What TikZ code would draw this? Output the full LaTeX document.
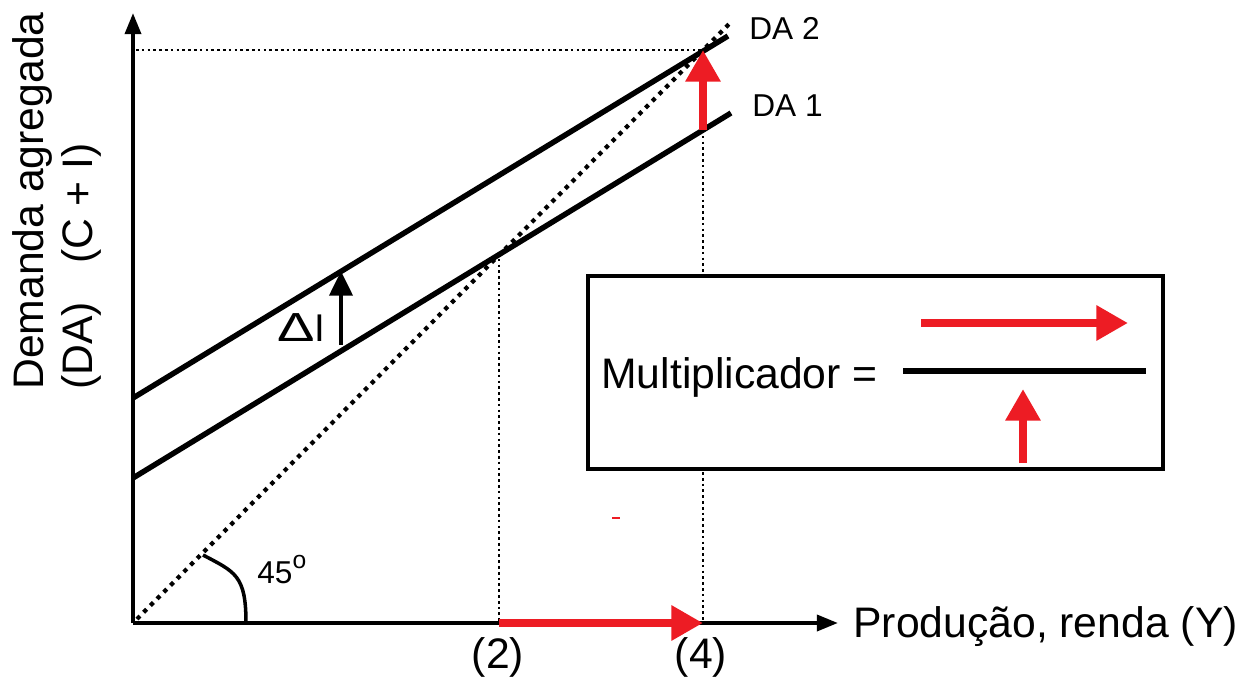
\documentclass[tikz,border=0pt]{standalone}
\usepackage{fontspec}
\setmainfont{Liberation Sans}
\usetikzlibrary{arrows.meta}
\definecolor{arrred}{HTML}{ED1C24}
\tikzset{
  axis/.style={line width=2.3pt,-{Triangle[length=12pt,width=9pt]}},
  dacurve/.style={line width=3.1pt},
  guide/.style={line width=1.3pt,dash pattern=on 1.5pt off 1.8pt},
  diag/.style={line width=2.4pt,dash pattern=on 2.4pt off 3pt},
  redarrow/.style={arrred,line width=4.5pt,-{Triangle[length=18pt,width=19pt]}},
  lab/.style={inner sep=0pt,font=\fontsize{24.3}{28}\selectfont},
  smalllab/.style={inner sep=0pt,font=\fontsize{18}{21}\selectfont},
}
\begin{document}
\begin{tikzpicture}[x=0.02cm,y=-0.02cm]
\useasboundingbox (0,0) rectangle (1242,679);
% coordinates
\coordinate (O) at (133,623);
\coordinate (Ytop) at (133,13);
\coordinate (Xend) at (838,623);
\coordinate (da1a) at (133,478);
\coordinate (da1b) at (731,113);
\coordinate (da2a) at (133,398);
\coordinate (da2b) at (728,36);
\coordinate (d45a) at (137,619);
\coordinate (d45b) at (731,22);
\coordinate (E1) at (499,253);
\coordinate (E1x) at (499,623);
\coordinate (E2) at (703,50);
\coordinate (E2x) at (703,623);
\coordinate (E2b) at (703,130);
\coordinate (Hl) at (136,50);
\coordinate (dIa) at (341,345);
\coordinate (dIb) at (341,271);
% guide lines
\draw[guide] (Hl) -- (E2);
\draw[guide] (E1) -- (E1x);
\draw[guide] (E2b) -- (E2x);
\draw[diag] (d45a) -- (d45b);
% DA lines
\draw[dacurve] (da1a) -- (da1b);
\draw[dacurve] (da2a) -- (da2b);
% axes
\draw[axis] (O) -- (Ytop);
\draw[axis] (O) -- (Xend);
% Delta I arrow
\draw[line width=2.4pt,-{Triangle[length=14pt,width=13pt]}] (dIa) -- (dIb);
\node[inner sep=0pt,anchor=base west,font=\fontsize{22}{24}\selectfont] (dI) at (277,341) {\scalebox{1.45}[1.05]{Δ}I};
% angle arc
\coordinate (arcA) at (203,555);
\coordinate (arcB) at (246,623);
\draw[line width=2pt] (arcA) .. controls (235,572) and (246,575) .. (arcB);
\node[smalllab,anchor=base west] (ang) at (257,583) {45\raisebox{0.45em}{\fontsize{14}{16}\selectfont o}};
% red arrows on plot
\draw[redarrow] (E2b) -- (E2);
\draw[redarrow] (E1x) -- (E2x);
% labels
\node[smalllab,anchor=base west] (l2) at (749,40) {DA 2};
\node[smalllab,anchor=base west] (l1) at (752,117) {DA 1};
\node[lab,anchor=base west] (xl) at (853,637) {Produção, renda (Y)};
\node[lab,anchor=base] (t2) at (498,668) {(2)};
\node[lab,anchor=base] (t4) at (701,668) {(4)};
\node[lab,rotate=90,anchor=base west] (yl1) at (43,390) {Demanda agregada};
\node[lab,rotate=90,anchor=base west] (yl2) at (92,390) {(DA)\hspace{0.9em}(C + I)};
% small red mark
\coordinate (rm1) at (612,518);
\coordinate (rm2) at (620,518);
\draw[arrred,line width=1pt] (rm1) -- (rm2);
% box
\node[draw,line width=2pt,fill=white,minimum width=575*0.02cm,minimum height=193*0.02cm,inner sep=0pt] (box) at (875.5,372.5) {};
\node[lab,anchor=base west] (mult) at (601,388) {Multiplicador =};
\coordinate (fa) at (903,371);
\coordinate (fb) at (1146,371);
\draw[line width=3.4pt] (fa) -- (fb);
\coordinate (ra) at (921,323);
\coordinate (rb) at (1128,323);
\draw[redarrow] (ra) -- (rb);
\coordinate (ua) at (1023,463);
\coordinate (ub) at (1023,389);
\draw[redarrow] (ua) -- (ub);
\end{tikzpicture}
\end{document}
